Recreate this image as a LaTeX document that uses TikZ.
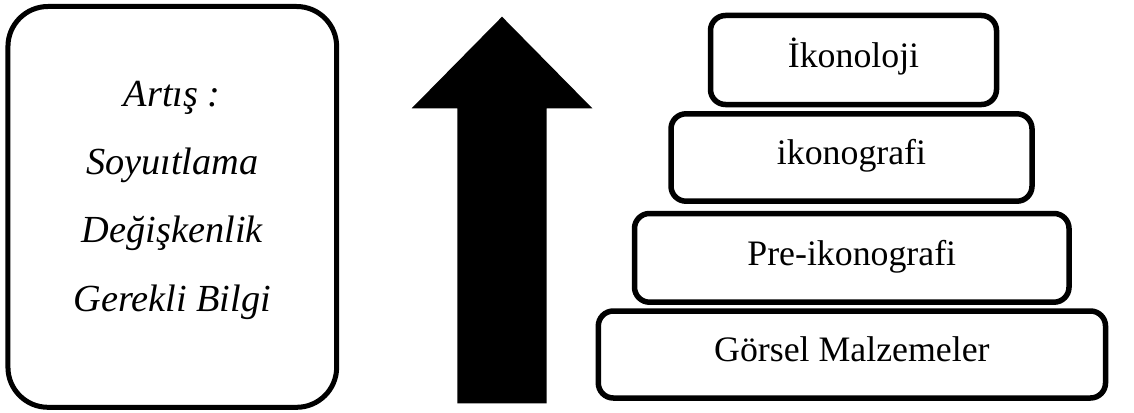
\documentclass[tikz,border=0pt]{standalone}
\usepackage{fontspec}
\setmainfont{Liberation Serif}
\begin{document}
\begin{tikzpicture}[x=1pt,y=-1pt,
  levelbox/.style={draw=black, line width=5.5pt, rounded corners=15pt, inner sep=0pt,
    font=\fontsize{35.8}{40}\selectfont, text height=25.5pt, text depth=10.7pt},
  sidebox/.style={draw=black, line width=5pt, rounded corners=40pt, inner sep=0pt},
  sidetext/.style={anchor=base, inner sep=0pt, font=\fontsize{38.3}{40}\selectfont\itshape}]
\useasboundingbox (0,0) rectangle (1134,412);
% left box
\node[sidebox, minimum width=328.7pt, minimum height=400.8pt] (L) at (172.3,206.9) {};
\node[sidetext] (t1) at (172.3,106) {Artış :};
\node[sidetext] (t2) at (172.3,174.3) {Soyuıtlama};
\node[sidetext] (t3) at (172.3,242.8) {Değişkenlik};
\node[sidetext] (t4) at (172.3,311.5) {Gerekli Bilgi};
% arrow
\fill[black] (502,16.7) -- (592.3,108.3) -- (546.7,108.3) -- (546.7,403.3)
  -- (457.3,403.3) -- (457.3,108.3) -- (411.7,108.3) -- cycle;
% pyramid levels
\node[levelbox, minimum width=286pt, minimum height=89pt] (b1) at (853.5,60) {İkonoloji};
\node[levelbox, minimum width=361pt, minimum height=87.4pt] (b2) at (851.5,157.5) {ikonografi};
\node[levelbox, minimum width=434.5pt, minimum height=88.7pt] (b3) at (851.75,257.85) {Pre-ikonografi};
\node[levelbox, minimum width=507.2pt, minimum height=87pt] (b4) at (851.9,354.5) {Görsel Malzemeler};
\end{tikzpicture}
\end{document}
